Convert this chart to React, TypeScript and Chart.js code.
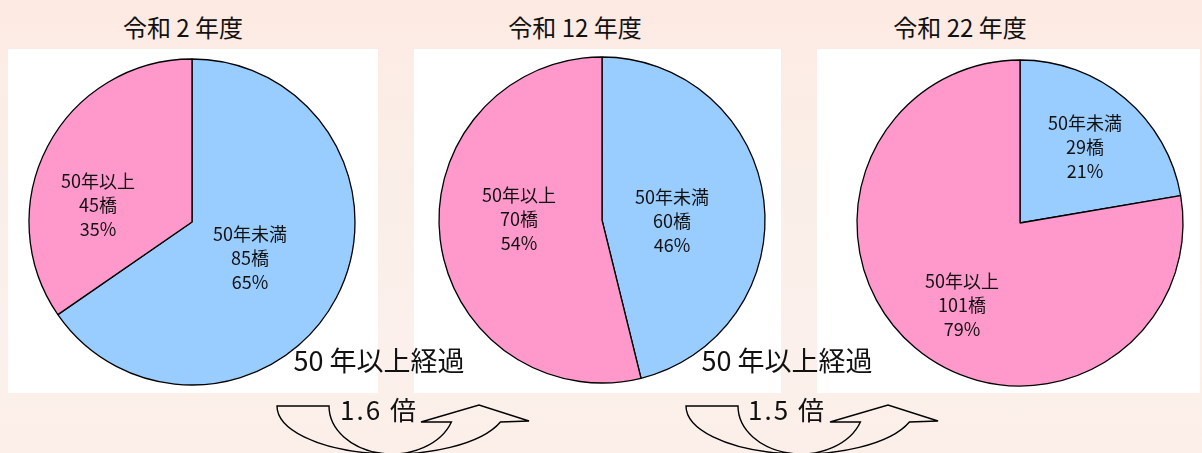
import React, { useEffect, useRef } from "react";
import { Chart, registerables } from "chart.js";

Chart.register(...registerables);

// ---- data ----
const years = ["令和 2 年度", "令和 12 年度", "令和 22 年度"];
const categories = ["50年未満", "50年以上"];
const bridgesR2 = [85, 45];
const bridgesR12 = [60, 70];
const bridgesR22 = [29, 101];
const pctR2 = [65, 35];
const pctR12 = [46, 54];
const pctR22 = [21, 79];
const elapsedLabel = "50 年以上経過";
const ratioLabels = ["1.6 倍", "1.5 倍"];

// ---- styles / layout ----
const COLORS = ["#99CCFF", "#FF99CC"];
const FONT = '"Noto Sans CJK JP", "Noto Sans", sans-serif';
const RADIUS = 163;
const CANVAS = 340;

type PieSpec = {
  title: string;
  values: number[];
  pcts: number[];
  offsets: number[][]; // label offsets as fraction of radius
  cx: number;
  cy: number;
  panel: [number, number, number, number];
  titleX: number;
};

const pies: PieSpec[] = [
  {
    title: years[0],
    values: bridgesR2,
    pcts: pctR2,
    offsets: [
      [0.356, 0.221],
      [-0.577, -0.104],
    ],
    cx: 192,
    cy: 222,
    panel: [8, 49, 370, 344],
    titleX: 183,
  },
  {
    title: years[1],
    values: bridgesR12,
    pcts: pctR12,
    offsets: [
      [0.429, 0.006],
      [-0.509, -0.006],
    ],
    cx: 602,
    cy: 220,
    panel: [414, 49, 367, 344],
    titleX: 575,
  },
  {
    title: years[2],
    values: bridgesR22,
    pcts: pctR22,
    offsets: [
      [0.399, -0.466],
      [-0.356, 0.503],
    ],
    cx: 1020,
    cy: 223,
    panel: [817, 49, 383, 344],
    titleX: 960,
  },
];

const sliceLabels = {
  id: "sliceLabels",
  afterDatasetsDraw(chart: any, _args: any, opts: any) {
    const ctx = chart.ctx;
    const meta = chart.getDatasetMeta(0);
    const values = chart.data.datasets[0].data as number[];
    meta.data.forEach((arc: any, i: number) => {
      const { x, y, outerRadius } = arc.getProps(["x", "y", "outerRadius"], true);
      const off = opts.offsets[i];
      const lx = x + off[0] * outerRadius;
      const ly = y + off[1] * outerRadius;
      const lines = [chart.data.labels[i], `${values[i]}橋`, `${opts.pcts[i]}%`];
      ctx.save();
      ctx.font = `18px ${FONT}`;
      ctx.fillStyle = "#111111";
      ctx.textAlign = "center";
      ctx.textBaseline = "middle";
      lines.forEach((t: string, k: number) => ctx.fillText(t, lx, ly + (k - 1) * 24));
      ctx.restore();
    });
  },
};

function PieChart({ spec }: { spec: PieSpec }) {
  const ref = useRef<HTMLCanvasElement | null>(null);
  useEffect(() => {
    if (!ref.current) return;
    const chart = new Chart(ref.current, {
      type: "pie",
      data: {
        labels: categories,
        datasets: [
          {
            data: spec.values,
            backgroundColor: COLORS,
            borderColor: "#000000",
            borderWidth: 1.3,
            radius: RADIUS,
          } as any,
        ],
      },
      options: {
        responsive: false,
        animation: false,
        events: [],
        layout: { padding: 0 },
        plugins: {
          legend: { display: false },
          tooltip: { enabled: false },
          title: { display: false },
          sliceLabels: { offsets: spec.offsets, pcts: spec.pcts },
        } as any,
      },
      plugins: [sliceLabels],
    });
    return () => chart.destroy();
  }, [spec]);
  return (
    <canvas
      ref={ref}
      width={CANVAS}
      height={CANVAS}
      style={{
        position: "absolute",
        left: spec.cx - CANVAS / 2,
        top: spec.cy - CANVAS / 2,
        width: CANVAS,
        height: CANVAS,
        zIndex: 2,
      }}
    />
  );
}

function arrowPath(dx: number) {
  const cx = 392 + dx;
  const cy = 406;
  const ry = 48;
  const rxo = 115;
  const rxi = 63;
  const k = Math.sqrt(1 - (16 / ry) * (16 / ry));
  const ox = cx + rxo * k;
  const ix = cx + rxi * k;
  return [
    `M ${cx - rxo} ${cy}`,
    `A ${rxo} ${ry} 0 0 0 ${ox} ${cy + 16}`,
    `L ${529 + dx} ${421}`,
    `L ${479 + dx} ${405}`,
    `L ${421 + dx} ${422}`,
    `L ${ix} ${cy + 16}`,
    `A ${rxi} ${ry} 0 0 1 ${cx - rxi} ${cy}`,
    `Z`,
  ].join(" ");
}

export default function App() {
  useEffect(() => {
    document.body.style.margin = "0";
  }, []);
  const textCenters = [379, 787];
  return (
    <div
      style={{
        position: "fixed",
        left: 0,
        top: 0,
        width: 1202,
        height: 453,
        overflow: "hidden",
        background:
          "linear-gradient(180deg, #fdeae2 0%, #fcece5 12%, #f9efe8 45%, #fbf0eb 75%, #fcefea 100%)",
        fontFamily: FONT,
      }}
    >
      {pies.map((p, i) => (
        <div
          key={"panel" + i}
          style={{
            position: "absolute",
            left: p.panel[0],
            top: p.panel[1],
            width: p.panel[2],
            height: p.panel[3],
            background: "#ffffff",
            zIndex: 1,
          }}
        />
      ))}
      {pies.map((p, i) => (
        <div
          key={"title" + i}
          style={{
            position: "absolute",
            left: p.titleX - 100,
            top: 27 - 18,
            width: 200,
            height: 36,
            lineHeight: "36px",
            textAlign: "center",
            fontSize: 24,
            color: "#111",
            zIndex: 3,
            whiteSpace: "pre",
          }}
        >
          {p.title}
        </div>
      ))}
      {pies.map((p, i) => (
        <PieChart key={"pie" + i} spec={p} />
      ))}
      <svg
        width={1202}
        height={453}
        style={{ position: "absolute", left: 0, top: 0, zIndex: 4 }}
      >
        {[0, 409].map((dx) => (
          <path
            key={dx}
            d={arrowPath(dx)}
            fill="none"
            stroke="#000"
            strokeWidth={1.4}
            strokeLinejoin="miter"
          />
        ))}
      </svg>
      {textCenters.map((x, i) => (
        <React.Fragment key={"t" + i}>
          <div
            style={{
              position: "absolute",
              left: x - 120,
              top: 360 - 18,
              width: 240,
              height: 36,
              lineHeight: "36px",
              textAlign: "center",
              fontSize: 27,
              color: "#111",
              zIndex: 5,
              whiteSpace: "pre",
            }}
          >
            {elapsedLabel}
          </div>
          <div
            style={{
              position: "absolute",
              left: x - 100,
              top: 409 - 18,
              width: 200,
              height: 36,
              lineHeight: "36px",
              textAlign: "center",
              fontSize: 26,
              letterSpacing: 2,
              color: "#111",
              zIndex: 5,
              whiteSpace: "pre",
            }}
          >
            {ratioLabels[i]}
          </div>
        </React.Fragment>
      ))}
    </div>
  );
}
